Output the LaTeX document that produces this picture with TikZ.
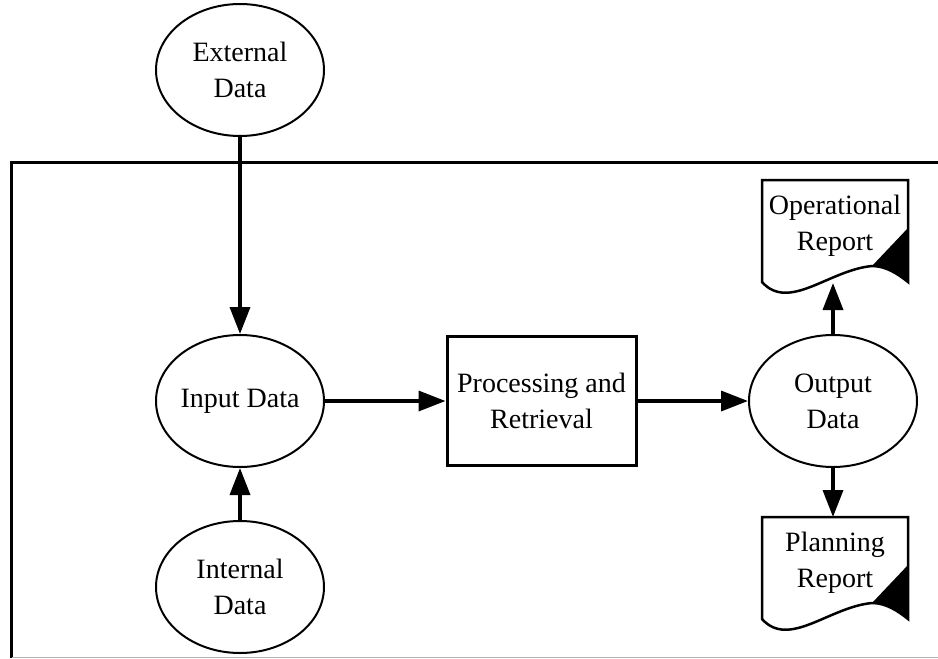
\documentclass[tikz,border=0pt]{standalone}
\usepackage{fontspec}
\setmainfont{Liberation Serif}
\usetikzlibrary{shapes.geometric,arrows.meta}
\tikzset{
  lbl/.style={font=\fontsize{28}{36}\selectfont, align=center},
  dataell/.style={lbl, ellipse, draw, line width=2pt, inner sep=-2pt,
    minimum width=168pt, minimum height=132pt},
  procbox/.style={lbl, rectangle, draw, line width=3pt,
    minimum width=189pt, minimum height=129pt},
  doctext/.style={lbl, inner sep=0pt},
  docline/.style={line width=2.5pt, line join=miter},
  conn/.style={line width=3.5pt, -{Triangle[length=27pt,width=20pt]}},
  framel/.style={line width=3pt},
}
\newcommand\docshapeat[3]{%
  \begin{scope}[shift={(#1)}]
    \draw[docline] (-72,52) -- (-72,-50) -- (74,-50) -- (74,52)
      .. controls (64,44) and (52,36) .. (38,36)
      .. controls (-5,40) and (-45,82) .. (-72,52) -- cycle;
    \fill (74,-2) -- (38,36) .. controls (52,36) and (64,44) .. (74,52) -- cycle;
    \coordinate (#2) at (-1,53);
    \coordinate (#3) at (-1,-50);
  \end{scope}}
\begin{document}
\begin{tikzpicture}[x=1pt,y=-1pt]
  \useasboundingbox (0,0) rectangle (938,659);
  % frame
  \draw[framel] (940,162) -- (11.5,162) -- (11.5,658);
  \draw[gray!60, line width=1.2pt] (11.5,657.5) -- (940,657.5);
  % nodes
  \node[dataell] (ext) at (240,70) {External\\Data};
  \node[dataell] (inp) at (240,401) {Input Data};
  \node[dataell] (int) at (240,587) {Internal\\Data};
  \node[procbox] (proc) at (541.5,401) {Processing and\\Retrieval};
  \node[dataell] (out) at (833,401) {Output\\Data};
  \node[doctext] (op) at (835,226) {Operational\\Report};
  \node[doctext] (pl) at (835,563) {Planning\\Report};
  \docshapeat{834,230}{opwave}{optop}
  \docshapeat{834,567}{plwave}{pltop}
  % connectors
  \draw[conn] (ext.south) -- (inp.north);
  \draw[conn] (int.north) -- (inp.south);
  \draw[conn] (inp.east) -- (proc.west);
  \draw[conn] (proc.east) -- (out.west);
  \draw[conn] (out.north) -- (opwave);
  \draw[conn] (out.south) -- (pltop);
\end{tikzpicture}
\end{document}
